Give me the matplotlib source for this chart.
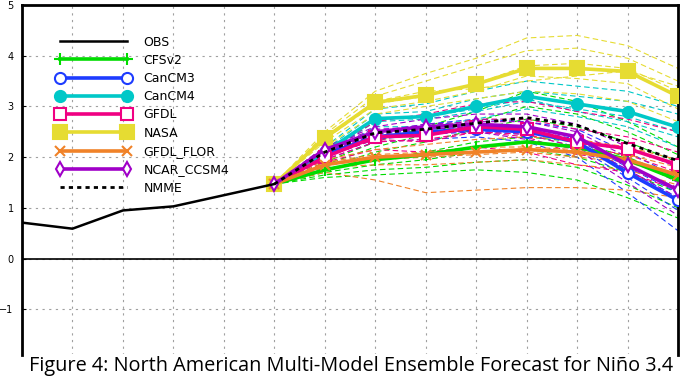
import numpy as np
import matplotlib.pyplot as plt

# months: 0..13 on the x axis, observations up to 5, forecasts 5..13
obs_x = [0, 1, 2, 3, 4, 5]
obs = [0.71, 0.59, 0.95, 1.03, 1.25, 1.47]
fc_x = [5, 6, 7, 8, 9, 10, 11, 12, 13]

model_names = ["CFSv2", "CanCM3", "CanCM4", "GFDL", "NASA", "GFDL_FLOR", "NCAR_CCSM4"]

cfsv2_mean = [1.47, 1.75, 1.95, 2.05, 2.2, 2.3, 2.2, 1.95, 1.55]
cancm3_mean = [1.47, 2.05, 2.4, 2.5, 2.55, 2.5, 2.3, 1.69, 1.15]
cancm4_mean = [1.47, 2.1, 2.76, 2.8, 3.0, 3.2, 3.05, 2.9, 2.59]
gfdl_mean = [1.47, 2.0, 2.4, 2.43, 2.6, 2.55, 2.3, 2.17, 1.85]
nasa_mean = [1.47, 2.38, 3.08, 3.22, 3.44, 3.75, 3.75, 3.69, 3.2]
flor_mean = [1.47, 1.85, 2.0, 2.05, 2.1, 2.15, 2.1, 1.95, 1.65]
ccsm4_mean = [1.47, 2.15, 2.5, 2.6, 2.65, 2.6, 2.4, 1.85, 1.35]
nmme_mean = [1.47, 2.1, 2.48, 2.55, 2.67, 2.78, 2.63, 2.27, 1.93]

cfsv2_members = [
    [1.47, 1.9, 2.3, 2.6, 2.9, 3.3, 3.1, 2.7, 2.2],
    [1.47, 1.85, 2.2, 2.45, 2.7, 3.0, 2.85, 2.5, 2.05],
    [1.47, 1.8, 2.1, 2.3, 2.55, 2.75, 2.6, 2.3, 1.9],
    [1.47, 1.75, 1.95, 2.1, 2.3, 2.4, 2.3, 2.0, 1.6],
    [1.47, 1.7, 1.85, 1.95, 2.1, 2.15, 2.0, 1.7, 1.3],
    [1.47, 1.65, 1.75, 1.8, 1.9, 1.95, 1.8, 1.45, 1.0],
    [1.47, 1.6, 1.65, 1.7, 1.75, 1.7, 1.55, 1.2, 0.8],
]
cancm3_members = [
    [1.47, 2.1, 2.5, 2.65, 2.75, 2.7, 2.55, 2.1, 1.6],
    [1.47, 2.05, 2.45, 2.55, 2.6, 2.55, 2.35, 1.8, 1.3],
    [1.47, 2.0, 2.35, 2.45, 2.5, 2.45, 2.2, 1.6, 0.95],
    [1.47, 1.95, 2.3, 2.35, 2.4, 2.3, 2.0, 1.3, 0.55],
    [1.47, 2.05, 2.4, 2.5, 2.5, 2.5, 2.3, 1.75, 1.2],
]
cancm4_members = [
    [1.47, 2.2, 2.95, 3.05, 3.3, 3.5, 3.4, 3.3, 3.0],
    [1.47, 2.15, 2.85, 2.9, 3.15, 3.3, 3.2, 3.1, 2.85],
    [1.47, 2.05, 2.7, 2.75, 2.9, 3.1, 2.95, 2.8, 2.5],
    [1.47, 2.0, 2.6, 2.6, 2.75, 2.95, 2.8, 2.6, 2.2],
    [1.47, 2.1, 2.75, 2.8, 2.95, 3.15, 2.9, 2.7, 2.4],
]
gfdl_members = [
    [1.47, 2.1, 2.7, 2.85, 3.05, 3.1, 2.9, 2.75, 2.5],
    [1.47, 2.05, 2.5, 2.55, 2.75, 2.75, 2.55, 2.4, 2.1],
    [1.47, 1.95, 2.3, 2.35, 2.5, 2.45, 2.2, 2.05, 1.7],
    [1.47, 1.9, 2.15, 2.1, 2.2, 2.1, 1.85, 1.7, 1.35],
    [1.47, 2.0, 2.35, 2.3, 2.5, 2.4, 2.05, 1.95, 1.6],
]
nasa_members = [
    [1.47, 2.5, 3.3, 3.65, 3.95, 4.35, 4.4, 4.2, 3.75],
    [1.47, 2.45, 3.2, 3.5, 3.8, 4.1, 4.15, 3.95, 3.5],
    [1.47, 2.35, 3.05, 3.2, 3.45, 3.8, 3.85, 3.75, 3.3],
    [1.47, 2.3, 2.95, 3.1, 3.3, 3.6, 3.55, 3.45, 2.95],
    [1.47, 2.4, 3.1, 3.3, 3.35, 3.5, 3.6, 3.7, 3.4],
    [1.47, 2.2, 2.85, 3.0, 3.15, 3.3, 3.25, 3.1, 2.7],
]
flor_members = [
    [1.47, 1.95, 2.15, 2.25, 2.35, 2.4, 2.35, 2.2, 1.95],
    [1.47, 1.9, 2.05, 2.1, 2.2, 2.2, 2.15, 2.05, 1.8],
    [1.47, 1.85, 1.95, 2.0, 2.05, 2.1, 2.0, 1.9, 1.6],
    [1.47, 1.8, 1.85, 1.85, 1.9, 1.95, 1.85, 1.75, 1.45],
    [1.47, 1.7, 1.55, 1.3, 1.35, 1.4, 1.4, 1.35, 1.2],
]
ccsm4_members = [
    [1.47, 2.2, 2.6, 2.75, 2.85, 2.85, 2.65, 2.2, 1.8],
    [1.47, 2.15, 2.5, 2.65, 2.7, 2.7, 2.5, 2.0, 1.5],
    [1.47, 2.1, 2.45, 2.55, 2.6, 2.5, 2.3, 1.75, 1.2],
    [1.47, 2.1, 2.4, 2.5, 2.5, 2.35, 2.15, 1.5, 0.85],
    [1.47, 2.2, 2.55, 2.6, 2.6, 2.6, 2.4, 1.8, 1.4],
]

colors = ["#00dc00", "#1e3cff", "#00c8c8", "#f00082", "#e6dc32", "#f08228", "#a000c8"]
markers = ["+", "o", "o", "s", "s", "x", "d"]
filled = [True, False, True, False, True, True, False]
msizes = [9, 8, 8, 8, 10, 7, 7]

means = [cfsv2_mean, cancm3_mean, cancm4_mean, gfdl_mean, nasa_mean, flor_mean, ccsm4_mean]
members = [cfsv2_members, cancm3_members, cancm4_members, gfdl_members,
           nasa_members, flor_members, ccsm4_members]

fig = plt.figure(figsize=(6.93, 3.78), dpi=100)
ax = fig.add_axes([22 / 693, 23 / 378, 656 / 693, 350 / 378])

# ensemble members, thin dashed
for i in range(len(model_names)):
    for m in members[i]:
        ax.plot(fc_x, m, color=colors[i], lw=0.8, ls=(0, (5, 3)), zorder=2)

ax.plot(obs_x, obs, color="k", lw=1.8, label="OBS", zorder=6)
for i in range(len(model_names)):
    ax.plot(fc_x, means[i], color=colors[i], lw=2.6, marker=markers[i],
            ms=msizes[i], mew=1.5,
            mfc=colors[i] if filled[i] else "white",
            label=model_names[i], zorder=4)
ax.plot(fc_x, nmme_mean, color="k", lw=2, ls=(0, (1.5, 1.5)), label="NMME", zorder=5)

ax.axhline(0, color="k", lw=1.2, zorder=3)
ax.set_xlim(0, 13)
ax.set_ylim(-1.9, 5)
ax.set_xticks(np.arange(0, 14))
ax.set_yticks([-1, 0, 1, 2, 3, 4, 5])
ax.set_xticklabels([])
ax.grid(True, color="#a0a0a0", lw=0.8, ls=(0, (2, 4)), zorder=0)
ax.tick_params(axis="x", length=0)
ax.tick_params(axis="y", direction="in", length=3, labelsize=7, pad=6)
for s in ["left", "top", "right"]:
    ax.spines[s].set_linewidth(2)
ax.spines["bottom"].set_visible(False)

ax.legend(loc="upper left", bbox_to_anchor=(0.035, 0.945), frameon=False,
          numpoints=2, handlelength=6, fontsize=9, labelspacing=0.42,
          handletextpad=1.0)

fig.text(351 / 693, 0.033, "Figure 4: North American Multi-Model Ensemble Forecast for Niño 3.4",
         ha="center", va="center", fontsize=14.3, family="Open Sans",
         bbox=dict(facecolor="white", edgecolor="none", pad=1))

fig.savefig("out.png", dpi=100)
